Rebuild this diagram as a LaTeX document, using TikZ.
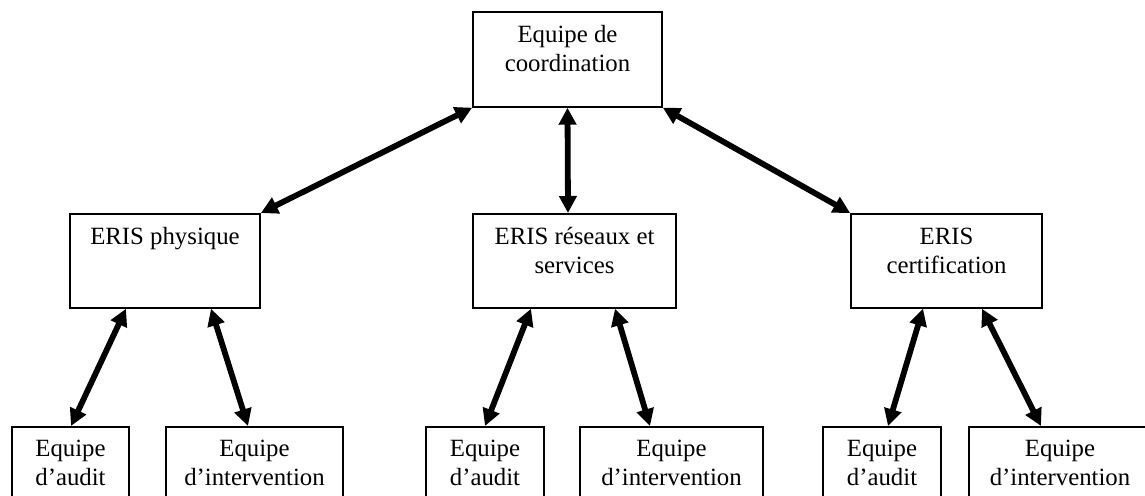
\documentclass[tikz,border=0pt]{standalone}
\usepackage{fontspec}
\setmainfont{Liberation Serif}
\usetikzlibrary{arrows.meta}
\begin{document}
\begin{tikzpicture}[x=0.5pt,y=-0.5pt,
  box/.style={draw,line width=0.85pt,inner sep=0pt,minimum height=#1},
  box/.default=47pt,
  lbl/.style={anchor=base,align=center,inner sep=0pt,
    font=\fontsize{12.4}{14.4}\selectfont},
  link/.style={line width=2.9pt,
    {Triangle[length=8.5pt,width=8.5pt]}-{Triangle[length=8.5pt,width=8.5pt]}}]
\useasboundingbox (0,0) rectangle (1145,495);
\clip (0,0) rectangle (1145,495);

% coordination team (label anchored on the baseline of its last line)
\node[box=47.5pt,minimum width=94.5pt,anchor=north] (coord) at (567.5,11) {};
\node[lbl] (coord-t) at (567.5,71) {Equipe de\\coordination};

% ERIS units
\node[box,minimum width=95pt,anchor=north] (phys) at (165,213) {};
\node[lbl] (phys-t) at (165,244) {ERIS physique};
\node[box,minimum width=101.5pt,anchor=north] (res) at (574.5,213) {};
\node[lbl] (res-t) at (574.5,273) {ERIS réseaux et\\services};
\node[box,minimum width=95.5pt,anchor=north] (cert) at (946.5,213) {};
\node[lbl] (cert-t) at (946.5,273) {ERIS\\certification};

% audit and intervention teams
\node[box=45pt,minimum width=58.5pt,anchor=north] (aud1) at (70.5,426) {};
\node[lbl] (aud1-t) at (70.5,485.5) {Equipe\\d’audit};
\node[box=45pt,minimum width=88.5pt,anchor=north] (int1) at (254.5,426) {};
\node[lbl] (int1-t) at (254.5,485.5) {Equipe\\d’intervention};
\node[box=45pt,minimum width=59.25pt,anchor=north] (aud2) at (485,426) {};
\node[lbl] (aud2-t) at (485,485.5) {Equipe\\d’audit};
\node[box=45pt,minimum width=91.75pt,anchor=north] (int2) at (671.5,426) {};
\node[lbl] (int2-t) at (671.5,485.5) {Equipe\\d’intervention};
\node[box=45pt,minimum width=59pt,anchor=north] (aud3) at (882,426) {};
\node[lbl] (aud3-t) at (882,485.5) {Equipe\\d’audit};
\node[box=45pt,minimum width=91pt,anchor=north] (int3) at (1060,426) {};
\node[lbl] (int3-t) at (1060,485.5) {Equipe\\d’intervention};

% links between levels
\draw[link] (coord.south west) -- (phys.north east);
\draw[link] (coord.south) -- ([xshift=-3.25pt]res.north);
\draw[link] (coord.south east) -- (cert.north west);

\draw[link] ([xshift=-19.5pt]phys.south) -- ([xshift=0.25pt]aud1.north);
\draw[link] ([xshift=23pt]phys.south) -- ([xshift=-3.25pt]int1.north);
\draw[link] ([xshift=-21.75pt]res.south) -- (aud2.north);
\draw[link] ([xshift=20.25pt]res.south) -- ([xshift=-10.75pt]int2.north);
\draw[link] ([xshift=-11.75pt]cert.south) -- ([xshift=3pt]aud3.north);
\draw[link] ([xshift=17.75pt]cert.south) -- ([xshift=-9.5pt]int3.north);
\end{tikzpicture}
\end{document}
